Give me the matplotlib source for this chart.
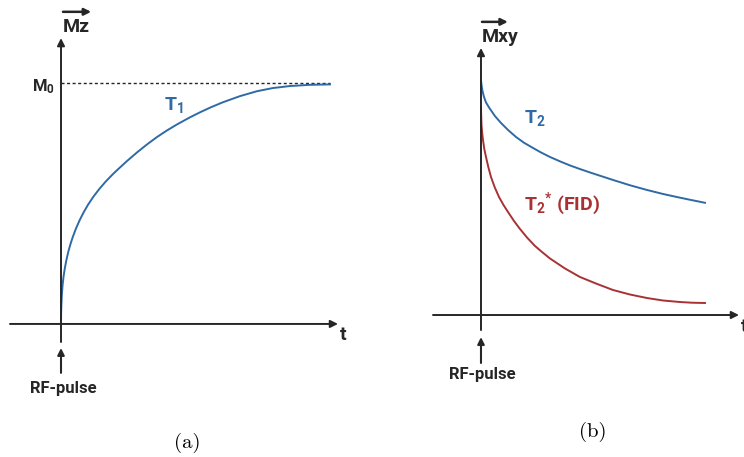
import matplotlib
matplotlib.use("Agg")
import matplotlib.pyplot as plt

# --- data (t in arbitrary units 0..5, magnetisation 0..1) ---
t1_t = [0.0, 0.0019, 0.0074, 0.0167, 0.0297, 0.0465, 0.0688, 0.0967, 0.1301, 0.1710,
        0.2193, 0.2751, 0.3401, 0.4145, 0.5019, 0.6041, 0.7156, 0.8364, 0.9665,
        1.0409, 1.2267, 1.4126, 1.5985, 1.7844, 1.9702, 2.1561, 2.3977, 2.5836,
        2.7881, 3.0112, 3.3271, 3.6431, 3.9405, 4.2565, 4.6283, 5.0]
t1_mz = [0.0, 0.0415, 0.0830, 0.1245, 0.1618, 0.1950, 0.2282, 0.2614, 0.2946, 0.3278,
         0.3610, 0.3942, 0.4274, 0.4606, 0.4946, 0.5286, 0.5610, 0.5921, 0.6220,
         0.6378, 0.6759, 0.7116, 0.7448, 0.7755, 0.8029, 0.8278, 0.8573, 0.8780,
         0.8992, 0.9199, 0.9452, 0.9656, 0.9788, 0.9871, 0.9921, 0.9938]

t2_t = [0.0, 0.0112, 0.0335, 0.0670, 0.1116, 0.1786, 0.3125, 0.4464, 0.6027, 0.7813,
        0.9598, 1.1607, 1.3393, 1.5402, 1.7634, 1.9866, 2.2098, 2.4330, 2.6786,
        2.9464, 3.3259, 3.7054, 4.0625, 4.4420, 4.7098, 5.0]
t2_mxy = [1.0, 0.9787, 0.9532, 0.9277, 0.9043, 0.8830, 0.8460, 0.8170, 0.7872, 0.7574,
          0.7328, 0.7106, 0.6915, 0.6723, 0.6536, 0.6362, 0.6209, 0.6064, 0.5911,
          0.5745, 0.5519, 0.5319, 0.5149, 0.4991, 0.4885, 0.4774]

t2s_t = [0.0, 0.0045, 0.0112, 0.0268, 0.0446, 0.0737, 0.1116, 0.1629, 0.2232, 0.3080,
         0.4018, 0.5022, 0.6027, 0.7366, 0.8705, 1.0268, 1.2054, 1.3616, 1.5402,
         1.8750, 2.2098, 2.5670, 2.9464, 3.3259, 3.7054, 4.0625, 4.4420, 4.7098, 5.0]
t2s_mxy = [0.8809, 0.8468, 0.8085, 0.7745, 0.7447, 0.7064, 0.6723, 0.6298, 0.5872,
           0.5426, 0.5021, 0.4681, 0.4383, 0.4000, 0.3660, 0.3298, 0.2936, 0.2681,
           0.2404, 0.1979, 0.1617, 0.1340, 0.1064, 0.0872, 0.0723, 0.0617, 0.0553,
           0.0523, 0.0511]

m0 = 1.0
t_end = 5.0

plt.rcParams["font.family"] = ["Roboto", "DejaVu Sans"]
plt.rcParams["mathtext.fontset"] = "custom"
plt.rcParams["mathtext.rm"] = "Roboto:bold"
plt.rcParams["mathtext.it"] = "Roboto:bold"
plt.rcParams["mathtext.bf"] = "Roboto:bold"

BLUE = "#2f6aa6"
RED = "#a83233"
INK = "#262626"

fig = plt.figure(figsize=(7.44, 4.57), dpi=100)
axl = fig.add_axes([0, 0, 0.5, 1])
axr = fig.add_axes([0.5, 0, 0.5, 1])
for ax in (axl, axr):
    ax.set_axis_off()

axl.set_xlim(-1.134, 5.781)
axl.set_ylim(-0.552, 1.344)
axr.set_xlim(-2.433, 5.871)
axr.set_ylim(-0.604, 1.340)


def arrow(ax, x0, y0, x1, y1, lw=1.4, scale=11):
    ax.annotate("", xy=(x1, y1), xytext=(x0, y0),
                arrowprops=dict(arrowstyle="-|>", color=INK, lw=lw,
                                shrinkA=0, shrinkB=0, mutation_scale=scale))


def bold(ax, x, y, s, size=13, color=INK, **kw):
    ax.text(x, y, s, fontsize=size, color=color, fontweight="bold", **kw)


# ---- (a) longitudinal recovery ----
arrow(axl, -0.948, 0, 5.149, 0)
arrow(axl, 0, -0.075, 0, 1.186)
axl.plot([0, t_end], [m0, m0], ls=(0, (2.2, 1.8)), color=INK, lw=1.0)
axl.plot(t1_t, t1_mz, color=BLUE, lw=1.4, solid_joinstyle="round")

bold(axl, 0.037, 1.212, "Mz", size=14, ha="left", va="baseline")
arrow(axl, 0.037, 1.295, 0.56, 1.295, lw=1.8, scale=10)
bold(axl, -0.335, 0.983, r"$\mathrm{M}_0$", size=12, ha="center", va="center")
bold(axl, 2.1, 0.909, r"$\mathrm{T}_1$", size=14, color=BLUE, ha="center", va="center")
bold(axl, 5.242, -0.046, "t", size=14, ha="center", va="center")
arrow(axl, 0, -0.203, 0, -0.100, lw=1.5, scale=10)
bold(axl, 0.046, -0.266, "RF-pulse", size=12, ha="center", va="center")
axl.text(2.342, -0.494, "(a)", fontsize=15, family="cmr10", color="black",
         ha="center", va="center")

# ---- (b) transverse decay ----
arrow(axr, -1.071, 0, 5.759, 0)
arrow(axr, 0, -0.064, 0, 1.136)
axr.plot(t2_t, t2_mxy, color=BLUE, lw=1.4, solid_joinstyle="round")
axr.plot(t2s_t, t2s_mxy, color=RED, lw=1.4, solid_joinstyle="round")

bold(axr, 0.022, 1.162, "Mxy", size=14, ha="left", va="baseline")
arrow(axr, 0.022, 1.247, 0.60, 1.247, lw=1.8, scale=10)
bold(axr, 1.205, 0.838, r"$\mathrm{T}_2$", size=14, color=BLUE, ha="center", va="center")
bold(axr, 1.808, 0.472, r"$\mathrm{T}_{2}{}^{*}$ (FID)", size=14, color=RED,
     ha="center", va="center")
bold(axr, 5.81, -0.05, "t", size=14, ha="left", va="center")
arrow(axr, 0, -0.204, 0, -0.094, lw=1.5, scale=10)
bold(axr, 0.033, -0.255, "RF-pulse", size=12, ha="center", va="center")
axr.text(2.5, -0.498, "(b)", fontsize=15, family="cmr10", color="black",
         ha="center", va="center")

fig.savefig("out.png", dpi=100)
